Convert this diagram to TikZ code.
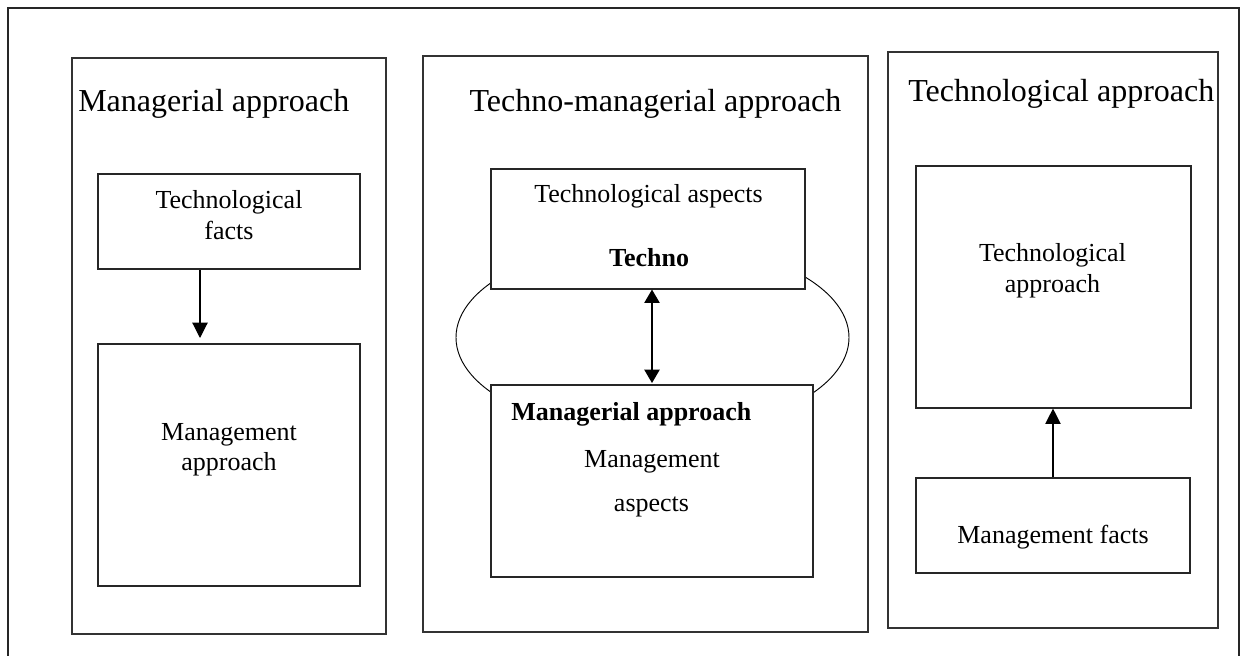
\documentclass[tikz,border=0pt]{standalone}
\usepackage{fontspec}
\setmainfont{Liberation Serif}
\usetikzlibrary{arrows.meta,fit,shapes.geometric}

\tikzset{
  frame/.style={draw=black!85, line width=0.85pt},
  panel/.style={draw=black!80, line width=0.85pt, inner sep=0pt},
  stepbox/.style={draw=black!85, fill=white, line width=0.85pt, inner sep=0pt},
  loopline/.style={draw=black, line width=0.7pt},
  title/.style={font=\fontsize{24}{28}\selectfont, inner sep=0pt},
  label/.style={font=\fontsize{19.5}{22.5}\selectfont, inner sep=0pt},
  boldlabel/.style={font=\fontsize{19.5}{22.5}\selectfont\bfseries, inner sep=0pt},
  link/.style={line width=0.85pt, -{Triangle[width=11.5pt,length=11.5pt]}},
  twolink/.style={line width=0.85pt, {Triangle[width=11.5pt,length=10pt]}-{Triangle[width=11.5pt,length=10pt]}}
}

\begin{document}
\begin{tikzpicture}[x=0.75pt, y=-0.75pt]
\useasboundingbox (0,0) rectangle (1246,656);

% open outer frame running off the lower edge
\draw[frame] (8,656) -- (8,8) -- (1239,8) -- (1239,656);

% three panels
\node[panel, fit={(72,58) (386,634)}] (pleft) {};
\node[panel, fit={(423,56) (868,632)}] (pmid) {};
\node[panel, fit={(888,52) (1218,628)}] (pright) {};

% panel titles
\node[title, anchor=base west] (tleft) at (78,112) {Managerial approach};
\node[title, anchor=base] (tmid) at (655.5,112) {Techno-managerial approach};
\node[title, anchor=base west] (tright) at (908,102) {Technological approach};

% loop joining the two middle boxes (drawn below them)
\node[ellipse, loopline, minimum width=294.75pt, minimum height=144pt, inner sep=0pt] (loop) at (652.5,337.5) {};

% left panel
\node[stepbox, fit={(98,174) (360,269)}] (tf) {};
\node[stepbox, fit={(98,344) (360,586)}] (ma) {};
\node[label, anchor=base] (tf1) at (229,209) {Technological};
\node[label, anchor=base] (tf2) at (229,239) {facts};
\node[label, anchor=base] (ma1) at (229,440) {Management};
\node[label, anchor=base] (ma2) at (229,470) {approach};
\coordinate (ax) at (200,338);
\draw[link] (tf.south -| ax) -- (ax);

% middle panel
\node[stepbox, fit={(491,169) (805,289)}] (tb) {};
\node[stepbox, fit={(491,385) (813,577)}] (bb) {};
\node[label, anchor=base] (tb1) at (648.5,203) {Technological aspects};
\node[boldlabel, anchor=base] (tb2) at (649,266) {Techno};
\node[boldlabel, anchor=base west] (bb1) at (511,420) {Managerial approach};
\node[label, anchor=base] (bb2) at (652,467) {Management};
\node[label, anchor=base] (bb3) at (651.5,511) {aspects};
\coordinate (dx) at (652,383);
\draw[twolink] (tb.south -| dx) -- (dx);

% right panel
\node[stepbox, fit={(916,166) (1191,408)}] (ta) {};
\node[stepbox, fit={(916,478) (1190,573)}] (mf) {};
\node[label, anchor=base] (ta1) at (1052.5,262) {Technological};
\node[label, anchor=base] (ta2) at (1052.5,292) {approach};
\node[label, anchor=base] (mf1) at (1053,543) {Management facts};
\draw[link] (mf.north) -- (mf.north |- ta.south);
\end{tikzpicture}
\end{document}
